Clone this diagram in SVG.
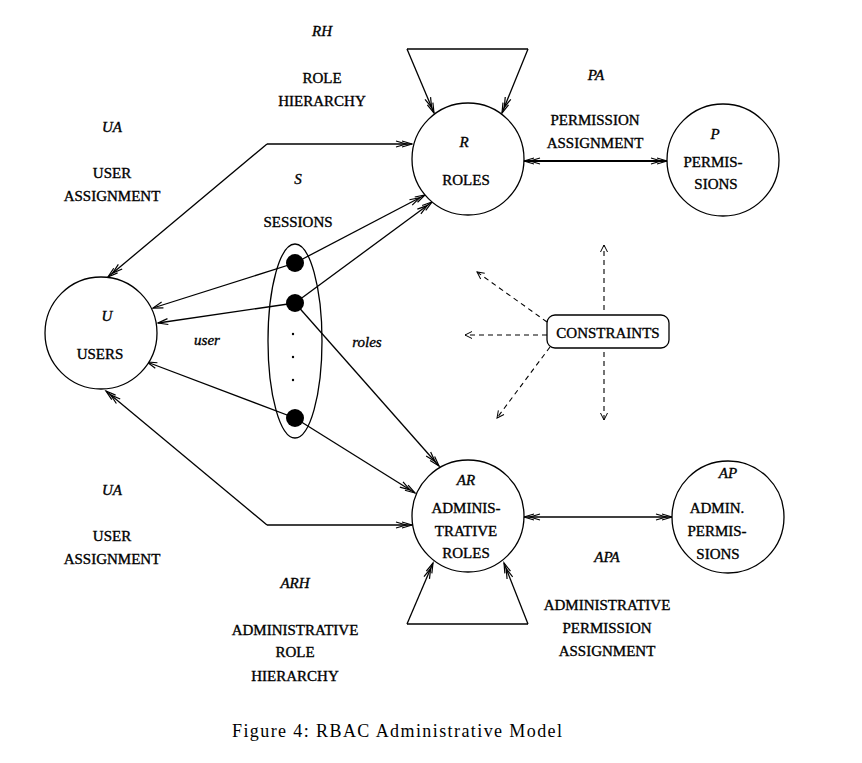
<svg xmlns="http://www.w3.org/2000/svg" width="862" height="763" viewBox="0 0 862 763">
<style>
.t{font-family:'Liberation Serif','Times New Roman',Tinos,'DejaVu Serif',serif;font-size:15px;fill:#000;stroke:#000;stroke-width:0.35;text-anchor:middle}
.i{font-style:italic}
.n{fill:#fff;stroke:#000;stroke-width:1.3}
.c{fill:none;stroke:#000;stroke-width:1.3}
.d{fill:none;stroke:#000;stroke-width:1.1;stroke-dasharray:5 4}
.cap{font-family:'Liberation Serif','Times New Roman',Tinos,'DejaVu Serif',serif;font-size:18px;fill:#000;text-anchor:middle}
</style>
<defs>
<marker id="dbl" viewBox="-18 -5 20 10" markerWidth="20" markerHeight="10" refX="0" refY="0" orient="auto-start-reverse" markerUnits="userSpaceOnUse">
<path d="M-10,-3 L0,0 L-10,3 M-16,-3 L-6,0 L-16,3" fill="none" stroke="#000" stroke-width="1.2"/>
</marker>
<marker id="sgl" viewBox="-12 -5 14 10" markerWidth="14" markerHeight="10" refX="0" refY="0" orient="auto" markerUnits="userSpaceOnUse">
<path d="M-10,-3 L0,0 L-10,3" fill="none" stroke="#000" stroke-width="1.2"/>
</marker>
<marker id="dsh" viewBox="-10 -5 12 10" markerWidth="12" markerHeight="10" refX="0" refY="0" orient="auto" markerUnits="userSpaceOnUse">
<path d="M-7,-3.5 L0,0 L-7,3.5" fill="none" stroke="#000" stroke-width="1"/>
</marker>
</defs>
<rect width="862" height="763" fill="#fff"/>

<g id="connectors">
<path class="c" d="M407,49 L528,49"/>
<path class="c" d="M407,49 L434,113" marker-end="url(#dbl)"/>
<path class="c" d="M528,49 L502,113" marker-end="url(#dbl)"/>
<path class="c" d="M407,624 L528,624"/>
<path class="c" d="M407,624 L433,563" marker-end="url(#dbl)"/>
<path class="c" d="M528,624 L504,563" marker-end="url(#dbl)"/>
<path class="c" d="M267,144 L412,144" marker-end="url(#dbl)"/>
<path class="c" d="M267,144 L108,277" marker-end="url(#dbl)"/>
<path class="c" d="M267,525 L412,525" marker-end="url(#dbl)"/>
<path class="c" d="M267,525 L106,391" marker-end="url(#dbl)"/>
<path class="c" d="M295,263 L425,195" marker-end="url(#dbl)"/>
<path class="c" d="M295,263 L153,308" marker-end="url(#sgl)"/>
<path class="c" d="M295,303 L432,202" marker-end="url(#dbl)"/>
<path class="c" d="M295,303 L158,323" marker-end="url(#sgl)"/>
<path class="c" d="M295,303 L439,466" marker-end="url(#dbl)"/>
<path class="c" d="M295,418 L147,362" marker-end="url(#sgl)"/>
<path class="c" d="M295,418 L415,493" marker-end="url(#dbl)"/>
<path class="c" style="stroke-width:1.8" d="M524,161 L667,161" marker-start="url(#dbl)" marker-end="url(#dbl)"/>
<path class="c" style="stroke-width:1.5" d="M524,517 L672,517" marker-start="url(#dbl)" marker-end="url(#dbl)"/>
<path class="d" d="M604,310 L604,245" marker-end="url(#dsh)"/>
<path class="d" d="M604,352 L604,420" marker-end="url(#dsh)"/>
<path class="d" d="M547,335 L465,335" marker-end="url(#dsh)"/>
<path class="d" d="M547,322 L477,272" marker-end="url(#dsh)"/>
<path class="d" d="M550,347 L497,418" marker-end="url(#dsh)"/>
</g>

<g id="roles">
<circle class="n" cx="468" cy="159" r="56"/>
<text class="t i" x="464" y="147">R</text>
<text class="t" x="466" y="185">ROLES</text>
</g>
<g id="users">
<circle class="n" cx="101" cy="333" r="56"/>
<text class="t i" x="107" y="321">U</text>
<text class="t" x="100" y="359">USERS</text>
</g>
<g id="permissions">
<circle class="n" cx="723" cy="160" r="56"/>
<text class="t i" x="715" y="139">P</text>
<text class="t" x="713" y="167">PERMIS-</text>
<text class="t" x="716" y="189">SIONS</text>
</g>
<g id="admin-roles">
<circle class="n" cx="468" cy="516" r="56"/>
<text class="t i" x="466" y="485">AR</text>
<text class="t" x="466" y="513">ADMINIS-</text>
<text class="t" x="466" y="536">TRATIVE</text>
<text class="t" x="466" y="558">ROLES</text>
</g>
<g id="admin-permissions">
<circle class="n" cx="728" cy="517" r="56"/>
<text class="t i" x="728" y="478">AP</text>
<text class="t" x="717" y="513">ADMIN.</text>
<text class="t" x="717" y="536">PERMIS-</text>
<text class="t" x="718" y="559">SIONS</text>
</g>
<g id="sessions">
<ellipse class="c" cx="295" cy="341" rx="27" ry="97"/>
<circle cx="295" cy="263" r="9" fill="#000"/>
<circle cx="295" cy="303" r="9" fill="#000"/>
<circle cx="295" cy="418" r="9" fill="#000"/>
<circle cx="293" cy="334" r="1.2" fill="#000"/>
<circle cx="293" cy="357" r="1.2" fill="#000"/>
<circle cx="293" cy="380" r="1.2" fill="#000"/>
</g>
<g id="constraints">
<rect class="n" x="547" y="315" width="122" height="33" rx="8"/>
<text class="t" x="608" y="338">CONSTRAINTS</text>
</g>

<g id="labels">
<text class="t i" x="322" y="36">RH</text>
<text class="t" x="322" y="83">ROLE</text>
<text class="t" x="322" y="106">HIERARCHY</text>
<text class="t i" x="112" y="132">UA</text>
<text class="t" x="112" y="178">USER</text>
<text class="t" x="112" y="201">ASSIGNMENT</text>
<text class="t i" x="298" y="184">S</text>
<text class="t" x="298" y="227">SESSIONS</text>
<text class="t i" x="596" y="80">PA</text>
<text class="t" x="595" y="125">PERMISSION</text>
<text class="t" x="595" y="148">ASSIGNMENT</text>
<text class="t i" x="207" y="345">user</text>
<text class="t i" x="367" y="347">roles</text>
<text class="t i" x="112" y="495">UA</text>
<text class="t" x="112" y="541">USER</text>
<text class="t" x="112" y="564">ASSIGNMENT</text>
<text class="t i" x="607" y="562">APA</text>
<text class="t i" x="295" y="588">ARH</text>
<text class="t" x="295" y="635">ADMINISTRATIVE</text>
<text class="t" x="295" y="657">ROLE</text>
<text class="t" x="295" y="681">HIERARCHY</text>
<text class="t" x="607" y="610">ADMINISTRATIVE</text>
<text class="t" x="607" y="633">PERMISSION</text>
<text class="t" x="607" y="656">ASSIGNMENT</text>
</g>
<text class="cap" x="397" y="737" textLength="330" lengthAdjust="spacing">Figure 4: RBAC Administrative Model</text>
</svg>
